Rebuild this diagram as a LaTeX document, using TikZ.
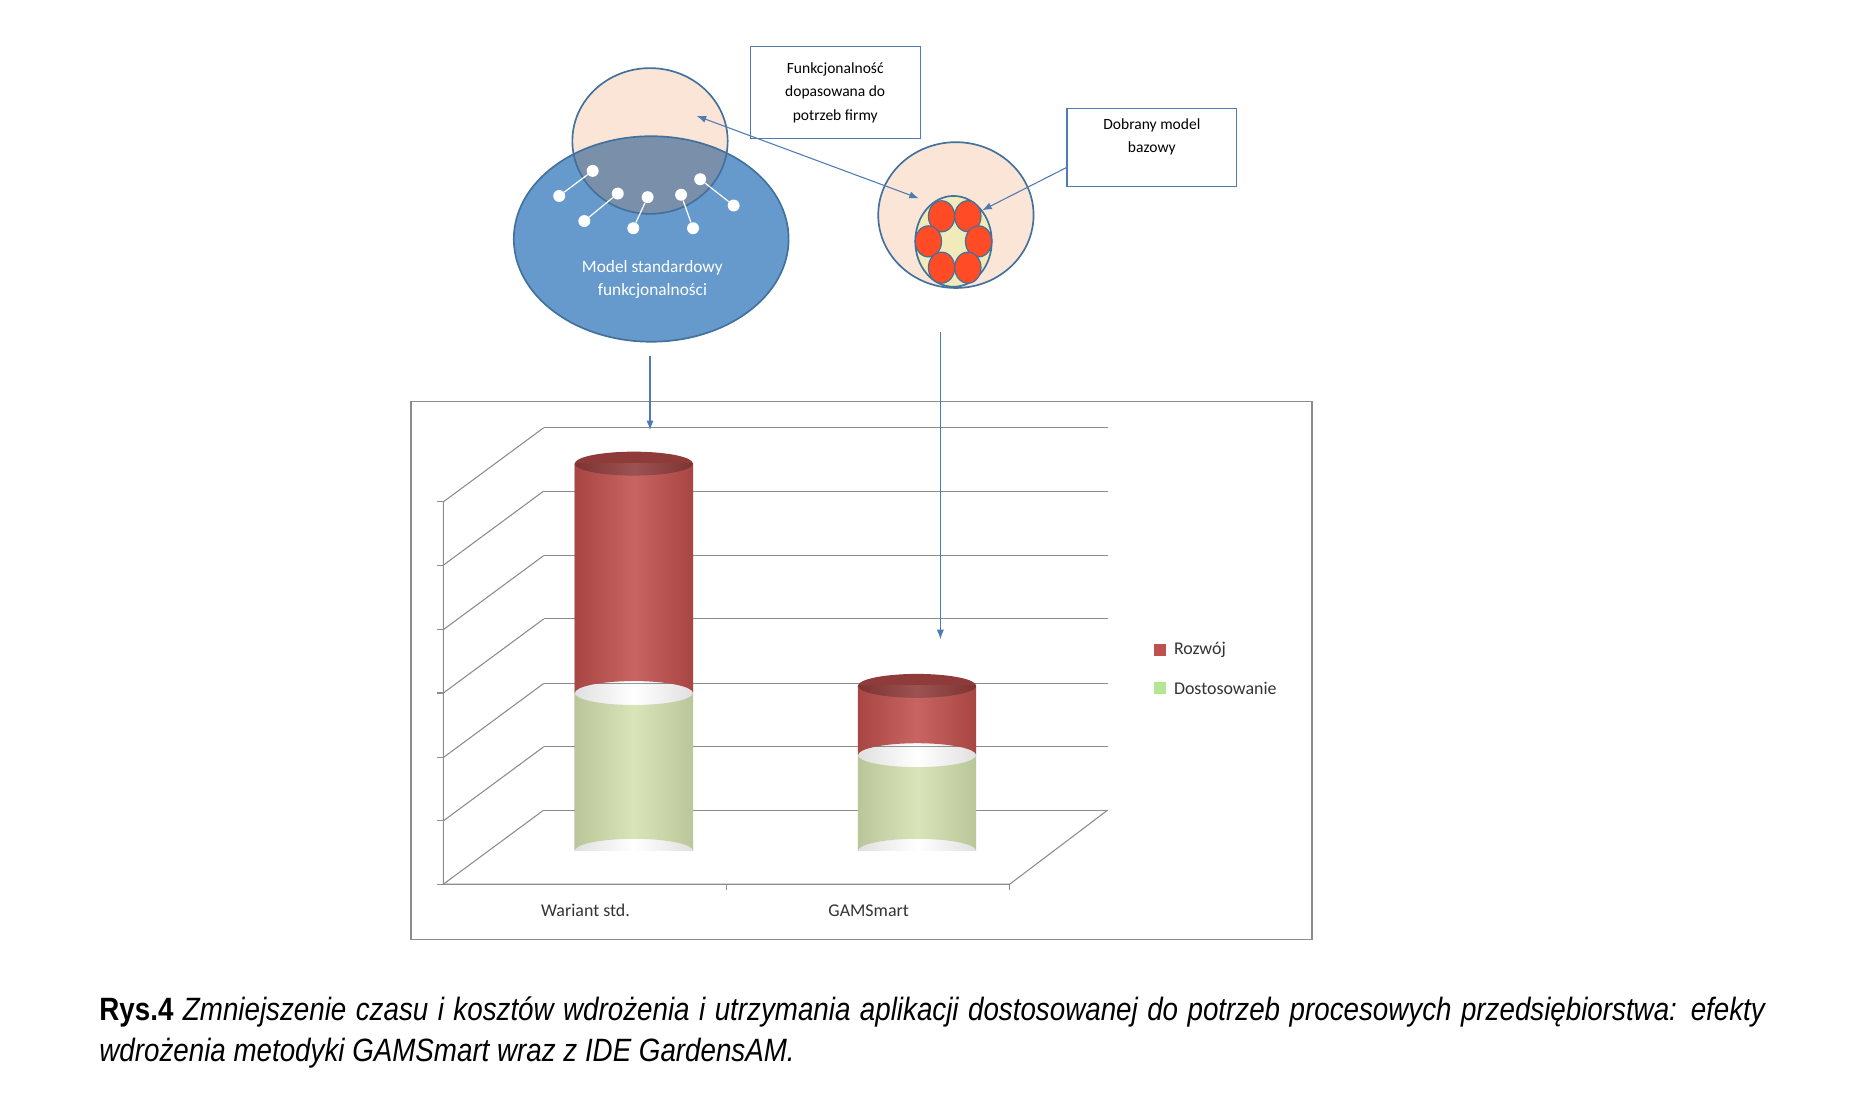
\documentclass[tikz,border=0pt]{standalone}
\usepackage{fontspec}
\setmainfont{Carlito}
\newfontfamily\capfont{Liberation Sans}[FakeStretch=0.86]
\usetikzlibrary{arrows.meta}
\definecolor{peach}{HTML}{FBE5D6}
\definecolor{bluef}{HTML}{6699CC}
\definecolor{blueo}{HTML}{41719C}
\definecolor{overl}{HTML}{7A90AA}
\definecolor{redb}{HTML}{C0504D}
\definecolor{redt}{HTML}{8E3B39}
\definecolor{greenb}{HTML}{D4E2B0}
\definecolor{grid}{HTML}{8C8C8C}
\definecolor{arr}{HTML}{4F7BB5}
\tikzset{
 ol/.style={draw=blueo,line width=1.4pt},
 dot/.style={circle,fill=white,inner sep=0pt,minimum size=10pt},
 dl/.style={white,line width=1pt},
 box/.style={draw=arr,fill=white,line width=0.9pt,align=center,font=\fontsize{13}{19.5}\selectfont,inner sep=0pt},
 ar/.style={arr,line width=0.9pt,-{Latex[length=8pt,width=6pt]}},
 gl/.style={grid,line width=0.9pt},
 lab/.style={font=\fontsize{15}{18}\selectfont,text=black!80}
}
\begin{document}
\begin{tikzpicture}[x=1pt,y=-1pt]
\useasboundingbox (0,0) rectangle (1560,929);
% left group
\fill[bluef] (545,200) ellipse[x radius=115,y radius=86];
\fill[peach] (544,118) ellipse[x radius=65,y radius=61];
\begin{scope}
\clip (545,200) ellipse[x radius=115,y radius=86];
\fill[overl] (544,118) ellipse[x radius=65,y radius=61];
\end{scope}
\draw[ol] (545,200) ellipse[x radius=115,y radius=86];
\draw[ol] (544,118) ellipse[x radius=65,y radius=61];
\node[dot] (d1) at (496,143) {}; \node[dot] (d2) at (468,164) {};
\node[dot] (d3) at (517,162) {}; \node[dot] (d4) at (489,185) {};
\node[dot] (d5) at (542,165) {}; \node[dot] (d6) at (530,191) {};
\node[dot] (d7) at (570,163) {}; \node[dot] (d8) at (580,191) {};
\node[dot] (d9) at (586,150) {}; \node[dot] (d10) at (614,172) {};
\draw[dl] (d1)--(d2) (d3)--(d4) (d5)--(d6) (d7)--(d8) (d9)--(d10);
\node[white,align=center,font=\fontsize{14.5}{19}\selectfont] (std) at (546,234) {Model standardowy\\funkcjonalności};
\coordinate (lc) at (583,97);
% right group
\fill[peach] (800,180) ellipse[x radius=65,y radius=61];
\draw[ol] (800,180) ellipse[x radius=65,y radius=61];
\fill[white!60!peach!80!yellow!90!gray] (798,202) ellipse[x radius=32,y radius=38];
\draw[ol] (798,202) ellipse[x radius=32,y radius=38];
\foreach \p in {(788,181),(810,181),(777,202),(819,202),(788,224),(810,224)}
  \draw[ol,fill=red!65!orange!85!white,line width=1pt] \p ellipse[x radius=11,y radius=13];
\coordinate (rc1) at (769,166);
\coordinate (rc2) at (822,176);
% boxes
\node[box,minimum width=142pt,minimum height=77pt] (b1) at (699,77.5) {Funkcjonalność\\dopasowana do\\potrzeb firmy};
\node[box,minimum width=142pt,minimum height=65pt,text depth=20pt] (b2) at (964,123.5) {Dobrany model\\bazowy};
\draw[arr,line width=0.9pt,{Latex[length=8pt,width=6pt]}-{Latex[length=8pt,width=6pt]}] (lc)--(rc1);
\coordinate (b2l) at (893,140);
\draw[ar] (b2l)--(rc2);
% chart frame
\node[draw=grid,line width=1pt,minimum width=754pt,minimum height=450pt,inner sep=0pt] (frame) at (721,561) {};
% grid
\foreach \y in {358,411,465,518,572,625,678}{
  \draw[gl] (455,\y)--(927,\y);
  \draw[gl] (371,\y+62)--(455,\y);
  \draw[gl] (366,\y+62)--(371,\y+62);
}
\draw[gl] (371,420)--(371,740)--(845,740)--(927,678);
\draw[gl] (608,740)--(608,745) (845,740)--(845,745);
% bar 1
\fill[greenb] (481,580) -- (481,712) arc[start angle=180,end angle=360,x radius=49.5,y radius=10] -- (580,580) arc[start angle=0,end angle=180,x radius=49.5,y radius=10];
\fill[redb] (481,388) -- (481,580) arc[start angle=180,end angle=360,x radius=49.5,y radius=10] -- (580,388) -- cycle;
\fill[redt] (530.5,388) ellipse[x radius=49.5,y radius=10];
\shade[left color=black,right color=black,middle color=white,opacity=0.12] (481,388) rectangle (580,712);
% bar 2
\fill[greenb] (718,632) -- (718,712) arc[start angle=180,end angle=360,x radius=49.5,y radius=10] -- (817,632) arc[start angle=0,end angle=180,x radius=49.5,y radius=10];
\fill[redb] (718,574) -- (718,632) arc[start angle=180,end angle=360,x radius=49.5,y radius=10] -- (817,574) -- cycle;
\fill[redt] (767.5,574) ellipse[x radius=49.5,y radius=10];
\shade[left color=black,right color=black,middle color=white,opacity=0.12] (718,574) rectangle (817,712);
% arrows down
\coordinate (a1s) at (544,298); \coordinate (a1e) at (544,360);
\coordinate (a2s) at (787,278); \coordinate (a2e) at (787,535);
\draw[ar] (a1s)--(a1e);
\draw[ar] (a2s)--(a2e);
% legend
\fill[redb] (966,539) rectangle (976,549);
\node[lab,anchor=west] (l1) at (979,544) {Rozwój};
\fill[greenb!85!green] (966,571) rectangle (976,581);
\node[lab,anchor=west] (l2) at (979,576) {Dostosowanie};
\node[lab] (x1) at (490,762) {Wariant std.};
\node[lab] (x2) at (727,762) {GAMSmart};
% caption
\node[anchor=north west,inner sep=0pt,text width=1394pt,align=justify,font=\capfont\fontsize{27}{34}\selectfont] (cap) at (83,834)
{\textbf{Rys.4} \textit{Zmniejszenie czasu i kosztów wdrożenia i utrzymania aplikacji dostosowanej do potrzeb procesowych przedsiębiorstwa: efekty wdrożenia metodyki GAMSmart wraz z IDE GardensAM.}};
\end{tikzpicture}
\end{document}
